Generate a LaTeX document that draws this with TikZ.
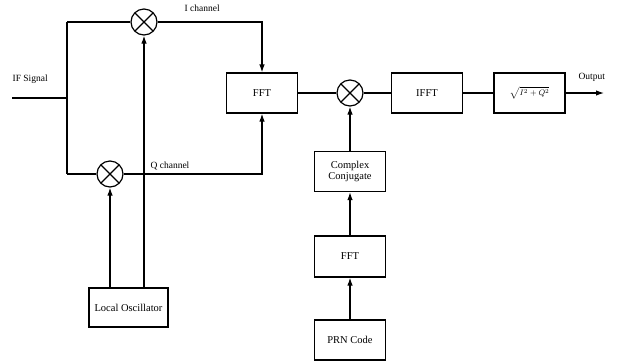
\documentclass[tikz,border=0pt]{standalone}
\usepackage{fontspec}
\setmainfont{Liberation Serif}
\usetikzlibrary{arrows.meta}
\begin{document}
\begin{tikzpicture}[x=1pt,y=-1pt,line width=1.2pt,
  box/.style={draw,minimum width=71pt,minimum height=40pt,inner sep=0pt,align=center,font=\fontsize{10.5}{11.5}\selectfont},
  mix/.style={draw,circle,minimum size=26pt,inner sep=0pt,path picture={\draw[line width=1.2pt] (path picture bounding box.north west)--(path picture bounding box.south east) (path picture bounding box.north east)--(path picture bounding box.south west);}},
  lab/.style={font=\fontsize{9.5}{10.5}\selectfont,inner sep=0pt},
  arr/.style={-{Latex[length=8pt,width=5.5pt]}}]
\useasboundingbox (0,0) rectangle (623,360);
\node[mix] (m1) at (144,22) {};
\node[mix] (m2) at (110,174) {};
\node[mix] (m3) at (350,93) {};
\node[box] (fft1) at (262,93) {FFT};
\node[box] (ifft) at (427,93) {IFFT};
\node[box] (sq) at (529.5,93) {\footnotesize$\sqrt{I^2+Q^2}$};
\node[box] (cc) at (350,171.5) {Complex\\[-1pt]Conjugate};
\node[box,minimum height=41pt] (fft2) at (350,256.5) {FFT};
\node[box,minimum height=40pt] (prn) at (350,340) {PRN Code};
\node[box,minimum width=79pt,minimum height=39pt] (lo) at (128.5,307.5) {Local Oscillator};
\coordinate (ifin) at (12,98);
\coordinate (jn) at (67,98);
\coordinate (tl) at (67,22);
\coordinate (bl) at (67,174);
\coordinate (tr) at (262,22);
\coordinate (br) at (262,174);
\coordinate (dot) at (144,174);
\coordinate (out) at (604,93);
\node[lab,anchor=west] (ifl) at (12,79) {IF Signal};
\node[lab,anchor=west] (il) at (184,8) {I channel};
\node[lab,anchor=west] (ql) at (150,166) {Q channel};
\node[lab,anchor=west] (ol) at (578,77) {Output};
\draw (ifin) -- (jn);
\draw (tl) -- (bl);
\draw (tl) -- (m1.west);
\draw (bl) -- (m2.west);
\draw[arr] (m1.east) -- (tr) -- (fft1.north);
\draw[arr] (m2.east) -- (br) -- (fft1.south);
\fill (dot) circle (1.6pt);
\draw[arr] (lo.north -| m2) -- (m2.south);
\draw[arr] (lo.north -| dot) -- (m1.south);
\draw (fft1.east) -- (m3.west);
\draw (m3.east) -- (ifft.west);
\draw (ifft.east) -- (sq.west);
\draw[arr] (sq.east) -- (out);
\draw[arr] (cc.north) -- (m3.south);
\draw[arr] (fft2.north) -- (cc.south);
\draw[arr] (prn.north) -- (fft2.south);
\end{tikzpicture}
\end{document}
